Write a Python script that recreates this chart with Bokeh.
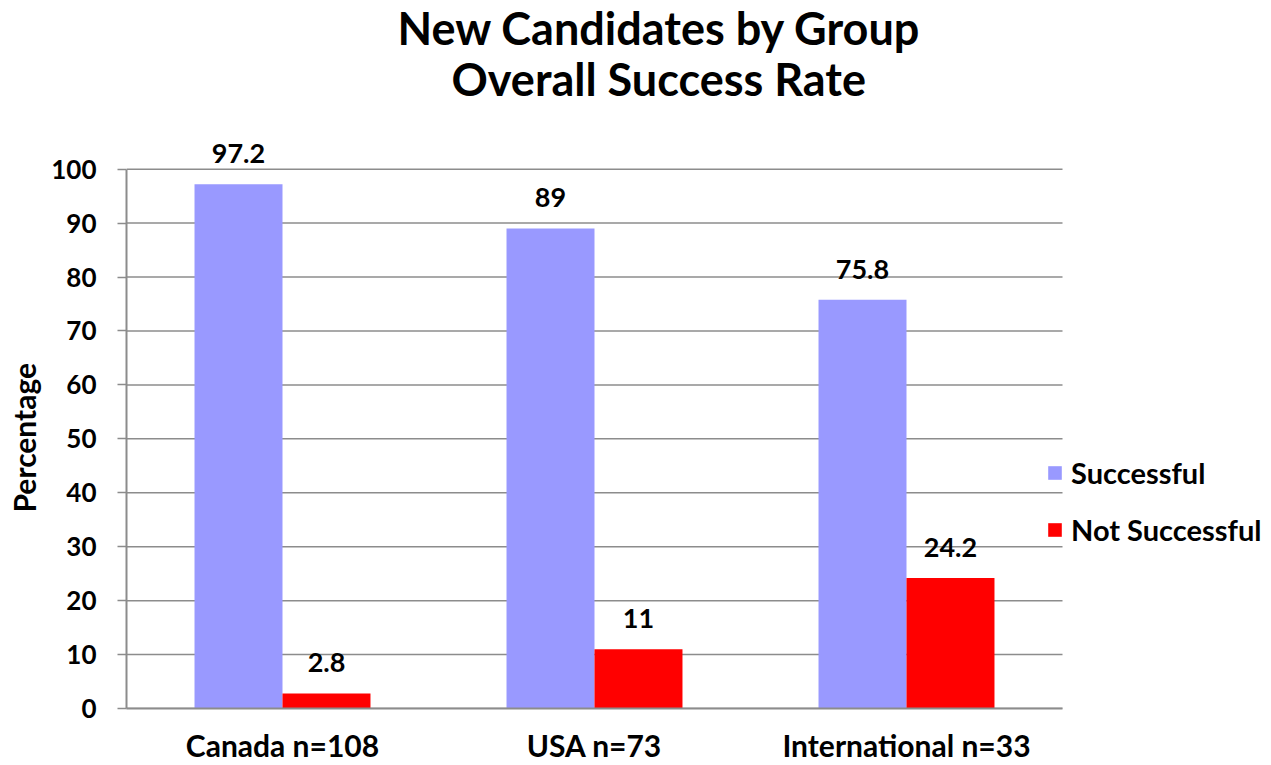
from bokeh.plotting import figure
from bokeh.models import ColumnDataSource, Range1d, Title, Legend, LegendItem, LabelSet, FixedTicker
from bokeh.core.properties import value
from bokeh.embed import file_html
from bokeh.resources import INLINE

groups = ["Canada n=108", "USA n=73", "International n=33"]
successful = [97.2, 89, 75.8]
not_successful = [2.8, 11, 24.2]
succ_labels = ["97.2", "89", "75.8"]
not_labels = ["2.8", "11", "24.2"]
y_ticks = [0, 10, 20, 30, 40, 50, 60, 70, 80, 90, 100]

FONT = "Lato"
GRAY = "#8c8c8c"
BLUE = "#9999ff"
RED = "#ff0000"

# category slots: group i occupies [i, i+1]
centers = [i + 0.5 for i in range(len(groups))]
bw = 0.282
x_succ = [c - bw / 2 for c in centers]
x_not = [c + bw / 2 for c in centers]

src = ColumnDataSource(dict(xs=x_succ, xn=x_not, s=successful, n=not_successful,
                            sl=succ_labels, nl=not_labels))

W, H = 1271, 765
LEFT, RIGHT_PLOT = 126, 1062          # category area in canvas pixels
x_end = len(groups) * (W - LEFT) / (RIGHT_PLOT - LEFT)

p = figure(x_range=Range1d(0, x_end), y_range=Range1d(0, 105.5),
           width=W, height=H, output_backend="svg", toolbar_location=None,
           min_border_left=LEFT, min_border_right=0, min_border_bottom=57,
           min_border_top=0)
p.title = None
p.outline_line_color = None
p.xgrid.grid_line_color = None
p.ygrid.grid_line_color = None

# horizontal gridlines limited to the category area
p.segment(x0=0, x1=len(groups), y0=y_ticks, y1=y_ticks,
          line_color=GRAY, line_width=1.5)

r1 = p.vbar(x="xs", top="s", width=bw, bottom=0, source=src,
            fill_color=BLUE, line_color=None)
r2 = p.vbar(x="xn", top="n", width=bw, bottom=0, source=src,
            fill_color=RED, line_color=None)

for xcol, col, lab in (("xs", "s", "sl"), ("xn", "n", "nl")):
    p.add_layout(LabelSet(x=xcol, y=col, text=lab, source=src,
                          text_align="center", text_baseline="alphabetic", y_offset=21,
                          text_font=value(FONT), text_font_style="bold",
                          text_font_size=value("27px"), text_color="black"))

# y axis
p.yaxis.ticker = FixedTicker(ticks=y_ticks)
p.yaxis.bounds = (0, 100)
p.yaxis.major_label_text_font = FONT
p.yaxis.major_label_text_font_style = "bold"
p.yaxis.major_label_text_font_size = "26px"
p.yaxis.major_label_text_color = "black"
p.yaxis.major_label_standoff = 21
p.yaxis.axis_line_color = GRAY
p.yaxis.axis_line_width = 2
p.yaxis.major_tick_line_color = GRAY
p.yaxis.major_tick_line_width = 1.5
p.yaxis.major_tick_out = 9
p.yaxis.major_tick_in = 0
p.yaxis.minor_tick_line_color = None

# y axis title, centred on the 0-100 span
p.add_layout(Title(text="Percentage", align="left", offset=196,
                   vertical_align="top", standoff=10, text_color="black",
                   text_font=FONT, text_font_style="bold", text_font_size="30px"),
             "left")

# x axis with category names
p.xaxis.ticker = FixedTicker(ticks=centers)
p.xaxis.major_label_overrides = {c: g for c, g in zip(centers, groups)}
p.xaxis.bounds = (0, len(groups))
p.xaxis.major_label_text_font = FONT
p.xaxis.major_label_text_font_style = "bold"
p.xaxis.major_label_text_font_size = "30px"
p.xaxis.major_label_text_color = "black"
p.xaxis.major_label_standoff = 18
p.xaxis.axis_line_color = GRAY
p.xaxis.axis_line_width = 2
p.xaxis.major_tick_line_color = None
p.xaxis.major_tick_out = 0
p.xaxis.major_tick_in = 0
p.xaxis.minor_tick_line_color = None

# titles (first added sits next to the plot, last added on top)
p.add_layout(Title(text=" ", text_font_size="10px", standoff=24), "above")
p.add_layout(Title(text="Overall Success Rate", align="left", offset=325,
                   vertical_align="top", text_color="black",
                   text_font=FONT, text_font_style="bold", text_font_size="45px",
                   standoff=-10), "above")
p.add_layout(Title(text="New Candidates by Group", align="left", offset=271,
                   vertical_align="top", text_color="black",
                   text_font=FONT, text_font_style="bold", text_font_size="45px",
                   standoff=0), "above")

legend = Legend(items=[LegendItem(label="Successful", renderers=[r1]),
                       LegendItem(label="Not Successful", renderers=[r2])],
                location=(920, 161), orientation="vertical",
                glyph_width=17, glyph_height=17, label_height=17, spacing=22,
                label_standoff=8, padding=0, margin=0,
                border_line_color=None, background_fill_alpha=0,
                label_text_font=FONT, label_text_font_style="bold",
                label_text_font_size="29px", label_text_color="black")
p.add_layout(legend, "center")

open("out.html", "w").write(file_html(p, INLINE))
